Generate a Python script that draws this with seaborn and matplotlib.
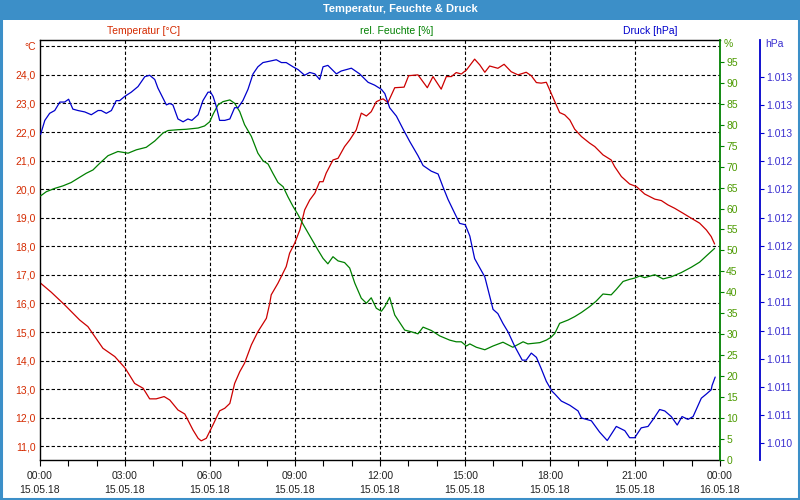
import matplotlib
matplotlib.use("Agg")
import matplotlib.pyplot as plt
import seaborn as sns
from matplotlib.patches import Rectangle
from matplotlib.ticker import FixedLocator, FixedFormatter, MultipleLocator

sns.set_theme(style="white")
plt.rcParams['font.family'] = ['Liberation Sans', 'DejaVu Sans']

# ---------------- data ----------------
temp_hours = [0.02, 0.40, 0.87, 1.40, 1.69, 2.22, 2.64, 3.01, 3.34, 3.64,
              3.87, 4.10, 4.38, 4.58, 4.87, 5.11, 5.40, 5.58, 5.69, 5.87,
              6.11, 6.34, 6.52, 6.70, 6.87, 7.05, 7.22, 7.46, 7.69, 7.99,
              8.11, 8.16, 8.40, 8.69, 8.81, 8.99, 9.17, 9.34, 9.52, 9.70,
              9.87, 9.99, 10.10, 10.34, 10.52, 10.75, 10.93, 11.16, 11.34, 11.52,
              11.69, 11.87, 12.02, 12.11, 12.28, 12.52, 12.85, 13.01, 13.34, 13.67,
              13.87, 14.16, 14.34, 14.52, 14.69, 14.87, 15.05, 15.34, 15.52, 15.70,
              15.87, 16.16, 16.38, 16.63, 16.87, 17.16, 17.34, 17.52, 17.69, 17.87,
              18.10, 18.34, 18.52, 18.70, 18.87, 19.11, 19.40, 19.58, 19.87, 20.16,
              20.28, 20.52, 20.81, 21.05, 21.34, 21.70, 21.93, 22.16, 22.40, 22.69,
              22.99, 23.28, 23.52, 23.69, 23.81]
temp_values = [16.71, 16.39, 15.95, 15.42, 15.19, 14.43, 14.14, 13.73, 13.20, 13.03,
               12.66, 12.66, 12.74, 12.62, 12.27, 12.13, 11.57, 11.28, 11.19, 11.28,
               11.76, 12.24, 12.33, 12.50, 13.20, 13.61, 13.91, 14.55, 15.01, 15.48,
               16.01, 16.30, 16.71, 17.29, 17.76, 18.11, 18.57, 19.27, 19.62, 19.86,
               20.26, 20.26, 20.56, 21.02, 21.08, 21.49, 21.72, 22.07, 22.66, 22.56,
               22.71, 23.06, 23.13, 23.16, 23.03, 23.55, 23.57, 23.97, 24.00, 23.55,
               23.94, 23.50, 23.94, 23.94, 24.08, 24.03, 24.17, 24.55, 24.35, 24.09,
               24.31, 24.23, 24.37, 24.11, 24.00, 24.09, 23.97, 23.73, 23.71, 23.74,
               23.22, 22.68, 22.60, 22.42, 22.10, 21.84, 21.61, 21.49, 21.20, 21.02,
               20.79, 20.44, 20.18, 20.09, 19.83, 19.65, 19.60, 19.45, 19.33, 19.16,
               18.98, 18.81, 18.57, 18.34, 18.08]

hum_hours = [0.02, 0.22, 0.52, 0.81, 1.10, 1.34, 1.63, 1.87, 2.11, 2.40,
             2.75, 3.11, 3.40, 3.75, 4.05, 4.34, 4.52, 4.87, 5.16, 5.58,
             5.81, 5.99, 6.11, 6.28, 6.46, 6.70, 6.87, 7.05, 7.22, 7.46,
             7.69, 7.87, 8.05, 8.22, 8.40, 8.58, 8.75, 8.93, 9.11, 9.28,
             9.46, 9.64, 9.81, 9.99, 10.16, 10.34, 10.52, 10.75, 10.93, 11.11,
             11.34, 11.52, 11.69, 11.87, 12.05, 12.17, 12.34, 12.52, 12.87, 13.10,
             13.34, 13.52, 13.81, 14.11, 14.46, 14.69, 14.87, 15.05, 15.17, 15.40,
             15.70, 15.99, 16.34, 16.69, 17.05, 17.22, 17.64, 17.87, 18.04, 18.17,
             18.34, 18.64, 18.87, 19.11, 19.40, 19.63, 19.87, 20.16, 20.34, 20.58,
             20.81, 20.99, 21.17, 21.34, 21.70, 21.99, 22.28, 22.63, 22.99, 23.28,
             23.52, 23.81]
hum_values = [63.0, 64.0, 64.8, 65.4, 66.2, 67.2, 68.4, 69.2, 70.8, 72.6,
              73.6, 73.2, 74.0, 74.6, 76.1, 78.0, 78.6, 78.8, 78.9, 79.2,
              79.7, 80.7, 82.5, 84.7, 85.5, 85.9, 85.1, 83.1, 80.0, 77.2,
              73.2, 71.4, 70.6, 68.4, 66.2, 65.2, 62.8, 60.5, 58.5, 56.3,
              54.2, 52.1, 50.1, 48.1, 46.8, 48.5, 47.5, 47.1, 45.8, 42.2,
              38.6, 37.4, 38.7, 36.2, 35.5, 36.6, 38.8, 34.6, 31.0, 30.6,
              30.1, 31.7, 30.9, 29.6, 28.6, 28.2, 28.2, 27.2, 27.7, 26.9,
              26.3, 27.2, 28.1, 26.9, 28.2, 27.7, 28.0, 28.6, 29.3, 30.2,
              32.6, 33.4, 34.2, 35.2, 36.6, 37.9, 39.6, 39.4, 40.7, 42.6,
              43.1, 43.4, 43.9, 43.5, 44.2, 43.2, 43.7, 44.7, 46.0, 47.2,
              48.7, 50.5]

pres_hours = [0.02, 0.17, 0.34, 0.52, 0.70, 0.87, 1.01, 1.16, 1.34, 1.58,
              1.81, 2.05, 2.16, 2.34, 2.52, 2.69, 2.81, 2.99, 3.22, 3.46,
              3.70, 3.87, 4.05, 4.16, 4.46, 4.58, 4.69, 4.87, 5.05, 5.22,
              5.36, 5.58, 5.75, 5.93, 6.02, 6.11, 6.22, 6.34, 6.52, 6.70,
              6.87, 6.99, 7.16, 7.34, 7.52, 7.69, 7.87, 8.11, 8.34, 8.52,
              8.69, 8.93, 9.11, 9.34, 9.52, 9.70, 9.87, 9.99, 10.16, 10.46,
              10.63, 10.99, 11.28, 11.58, 11.81, 12.05, 12.17, 12.34, 12.58, 12.81,
              13.05, 13.34, 13.52, 13.81, 14.05, 14.22, 14.40, 14.64, 14.81, 15.01,
              15.17, 15.34, 15.70, 15.99, 16.16, 16.34, 16.52, 16.75, 17.02, 17.16,
              17.34, 17.52, 17.69, 17.87, 18.07, 18.17, 18.40, 18.70, 18.99, 19.11,
              19.46, 19.75, 20.02, 20.34, 20.64, 20.81, 20.99, 21.22, 21.46, 21.64,
              21.87, 22.05, 22.28, 22.49, 22.66, 22.87, 23.05, 23.34, 23.52, 23.69,
              23.72, 23.83]
pres_values = [1012.59, 1012.69, 1012.74, 1012.76, 1012.82, 1012.82, 1012.84, 1012.77, 1012.76, 1012.75,
               1012.73, 1012.76, 1012.76, 1012.74, 1012.76, 1012.83, 1012.83, 1012.86, 1012.89, 1012.93,
               1013.00, 1013.01, 1012.98, 1012.92, 1012.80, 1012.81, 1012.80, 1012.70, 1012.68, 1012.70,
               1012.69, 1012.73, 1012.83, 1012.89, 1012.89, 1012.86, 1012.79, 1012.69, 1012.69, 1012.70,
               1012.78, 1012.78, 1012.83, 1012.91, 1013.02, 1013.07, 1013.10, 1013.11, 1013.12, 1013.10,
               1013.10, 1013.07, 1013.05, 1013.01, 1013.03, 1013.02, 1012.98, 1013.07, 1013.08, 1013.02,
               1013.04, 1013.06, 1013.02, 1012.96, 1012.94, 1012.91, 1012.88, 1012.78, 1012.72, 1012.63,
               1012.54, 1012.44, 1012.37, 1012.33, 1012.31, 1012.22, 1012.13, 1012.03, 1011.96, 1011.95,
               1011.87, 1011.71, 1011.58, 1011.35, 1011.32, 1011.25, 1011.19, 1011.09, 1010.99, 1010.99,
               1011.04, 1011.01, 1010.93, 1010.84, 1010.77, 1010.75, 1010.70, 1010.67, 1010.63, 1010.58,
               1010.56, 1010.48, 1010.42, 1010.52, 1010.49, 1010.44, 1010.44, 1010.51, 1010.52, 1010.57,
               1010.64, 1010.63, 1010.59, 1010.53, 1010.59, 1010.57, 1010.59, 1010.72, 1010.75, 1010.78,
               1010.81, 1010.87]

x_tick_hours = [0, 3, 6, 9, 12, 15, 18, 21, 24]
x_tick_times = ["00:00", "03:00", "06:00", "09:00", "12:00", "15:00", "18:00", "21:00", "00:00"]
x_tick_dates = ["15.05.18"] * 8 + ["16.05.18"]

temp_ticks = [11, 12, 13, 14, 15, 16, 17, 18, 19, 20, 21, 22, 23, 24, 25]
hum_ticks = [0, 5, 10, 15, 20, 25, 30, 35, 40, 45, 50, 55, 60, 65, 70, 75, 80, 85, 90, 95]
pres_ticks = [1010.4, 1010.6, 1010.8, 1011.0, 1011.2, 1011.4, 1011.6, 1011.8,
              1012.0, 1012.2, 1012.4, 1012.6, 1012.8, 1013.0]

title = "Temperatur, Feuchte & Druck"
series_names = ["Temperatur [°C]", "rel. Feuchte [%]", "Druck [hPa]"]

# ---------------- style ----------------
C_TEMP = "#cc0000"
C_TEMP_TXT = "#d42a00"
C_HUM = "#008000"
C_HUM_TXT = "#4c9a00"
C_PRES = "#0000cc"
C_PRES_TXT = "#3a2fd0"
C_BAR = "#3c8fc8"
FS = 7.5

W, H = 800, 500
fig = plt.figure(figsize=(8, 5), dpi=100)
fig.patch.set_facecolor("white")

ax = fig.add_axes([40 / W, 1 - 460 / H, 680 / W, 420 / H])
ax.set_facecolor("white")
ax_h = ax.twinx()
ax_p = ax.twinx()

sns.lineplot(x=temp_hours, y=temp_values, ax=ax, color=C_TEMP, linewidth=0.9,
             sort=False, estimator=None)
sns.lineplot(x=hum_hours, y=hum_values, ax=ax_h, color=C_HUM, linewidth=0.9,
             sort=False, estimator=None)
sns.lineplot(x=pres_hours, y=pres_values, ax=ax_p, color=C_PRES, linewidth=0.9,
             sort=False, estimator=None)

for a in (ax, ax_h, ax_p):
    a.set_xlabel("")
    a.set_ylabel("")
    a.set_xlim(0, 24)

ax.set_ylim(10.52, 25.22)
ax_h.set_ylim(0, 100.2)
ax_p.set_ylim(1010.282, 1013.26)

# grid
grid_kw = dict(color="black", linewidth=0.8, linestyle=(0, (3, 2)), zorder=0)
for v in temp_ticks:
    ax.axhline(v, **grid_kw)
for h in x_tick_hours[1:-1]:
    ax.axvline(h, **grid_kw)

# x axis
ax.xaxis.set_major_locator(FixedLocator(x_tick_hours))
ax.xaxis.set_major_formatter(FixedFormatter(
    [f"{t}\n{d}" for t, d in zip(x_tick_times, x_tick_dates)]))
ax.xaxis.set_minor_locator(MultipleLocator(1))
ax.tick_params(axis="x", which="both", direction="out", length=4, width=0.8,
               color="black", bottom=True, labelsize=FS, labelcolor="#222222", pad=4)
for lbl in ax.get_xticklabels():
    lbl.set_linespacing(1.45)

# left temperature axis
ax.yaxis.set_major_locator(FixedLocator(temp_ticks))
ax.yaxis.set_major_formatter(FixedFormatter(
    ["°C" if v == 25 else f"{v:.1f}".replace(".", ",") for v in temp_ticks]))
ax.tick_params(axis="y", which="both", length=0, left=True, labelsize=FS,
               labelcolor=C_TEMP_TXT, pad=3)
for s in ("left", "bottom", "top"):
    ax.spines[s].set_visible(True)
    ax.spines[s].set_color("black")
    ax.spines[s].set_linewidth(1.0)
ax.spines["right"].set_visible(False)

# humidity axis (right, green)
for s in ("left", "bottom", "top"):
    ax_h.spines[s].set_visible(False)
ax_h.spines["right"].set_color(C_HUM)
ax_h.spines["right"].set_linewidth(1.3)
ax_h.yaxis.set_major_locator(FixedLocator(hum_ticks))
ax_h.yaxis.set_major_formatter(FixedFormatter([str(v) for v in hum_ticks]))
ax_h.tick_params(axis="y", direction="out", length=3, width=0.8, color=C_HUM,
                 right=True, labelsize=FS, labelcolor=C_HUM_TXT, pad=1.5)
ax_h.tick_params(axis="x", bottom=False, labelbottom=False)

# pressure axis (further right, blue)
for s in ("left", "bottom", "top"):
    ax_p.spines[s].set_visible(False)
ax_p.spines["right"].set_position(("axes", 1 + 40 / 680))
ax_p.spines["right"].set_color(C_PRES)
ax_p.spines["right"].set_linewidth(1.3)
ax_p.yaxis.set_major_locator(FixedLocator(pres_ticks))
ax_p.yaxis.set_major_formatter(FixedFormatter(
    [f"{v / 1000:.3f}" for v in pres_ticks]))
ax_p.tick_params(axis="y", direction="out", length=3, width=0.8, color=C_PRES,
                 right=True, labelsize=FS, labelcolor=C_PRES_TXT, pad=1.5)
ax_p.tick_params(axis="x", bottom=False, labelbottom=False)

# unit labels at the top of the right axes
fig.text(724 / W, 1 - 44 / H, "%", color=C_HUM_TXT, fontsize=FS, ha="left", va="center")
fig.text(765 / W, 1 - 44 / H, "hPa", color=C_PRES_TXT, fontsize=FS, ha="left", va="center")

# title bar and frame
fig.patches.append(Rectangle((0, 1 - 20 / H), 1, 20 / H, transform=fig.transFigure,
                             facecolor=C_BAR, edgecolor="none", zorder=-1))
fig.patches.append(Rectangle((0.0015, 0.002), 0.997, 0.996, transform=fig.transFigure,
                             fill=False, edgecolor=C_BAR, linewidth=2.2, zorder=5))
fig.text(0.5, 1 - 9 / H, title, color="white", fontsize=8, fontweight="bold",
         ha="center", va="center")

# series captions
fig.text(144 / W, 1 - 31 / H, series_names[0], color=C_TEMP_TXT, fontsize=FS,
         ha="center", va="center")
fig.text(397 / W, 1 - 31 / H, series_names[1], color=C_HUM, fontsize=FS,
         ha="center", va="center")
fig.text(650 / W, 1 - 31 / H, series_names[2], color=C_PRES, fontsize=FS,
         ha="center", va="center")

fig.savefig("out.png", dpi=100, facecolor="white")
